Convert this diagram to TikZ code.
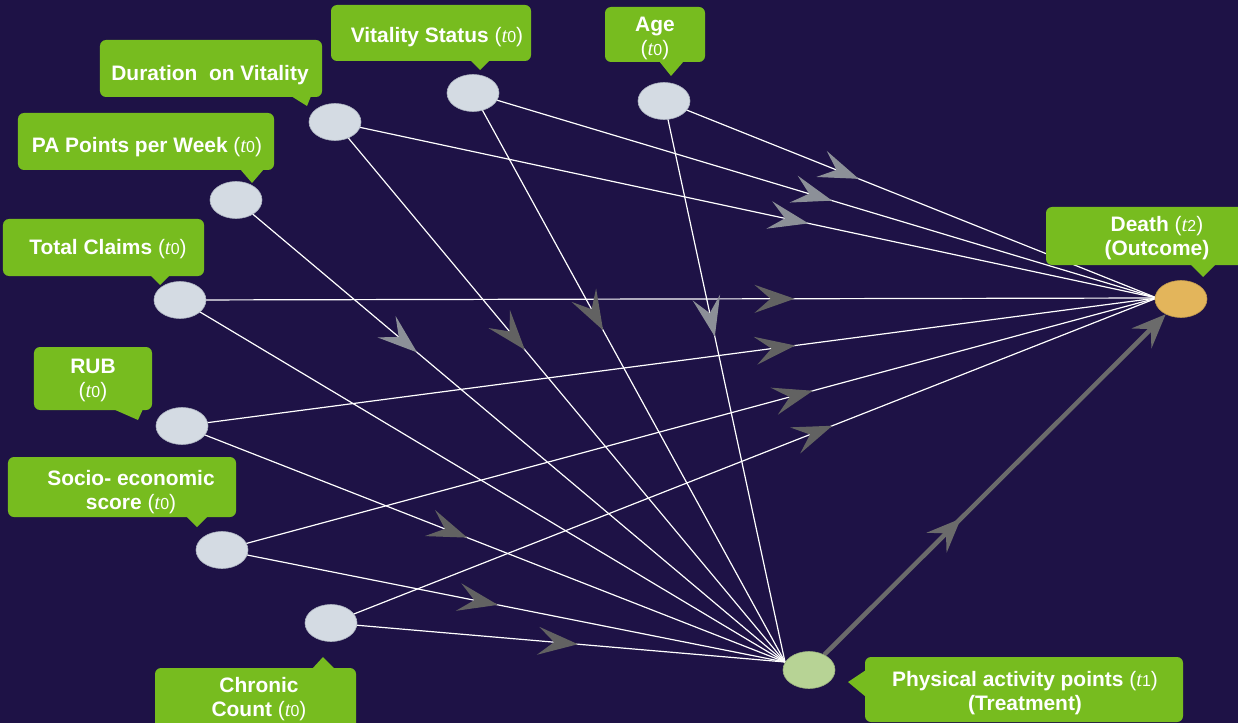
\documentclass[tikz,border=0pt]{standalone}
\usepackage{fontspec}
\setmainfont{Liberation Sans}
\newfontfamily\serifit{Liberation Serif}
\usetikzlibrary{shapes.geometric,arrows.meta,decorations.markings}
\definecolor{bgcol}{HTML}{1E1246}
\definecolor{boxgreen}{HTML}{77BC1F}
\definecolor{nodegray}{HTML}{D4DBE3}
\definecolor{nodeedge}{HTML}{AEB5C2}
\definecolor{treatfill}{HTML}{B7D395}
\definecolor{deathfill}{HTML}{E3B55B}
\definecolor{arrlight}{HTML}{8C9098}
\definecolor{arrdark}{HTML}{626262}
\definecolor{thickcol}{HTML}{6B6B6B}
\newcommand\tlab[1]{{\mdseries(}{\serifit\itshape\mdseries t}{\mdseries\fontsize{16}{24}\selectfont #1}{\mdseries)}}
\pgfdeclarelayer{bgl}
\pgfdeclarelayer{edges}
\pgfsetlayers{bgl,edges,main}
\begin{document}
\begin{tikzpicture}[x=1bp,y=-1bp,
  vnode/.style={ellipse, fill=nodegray, draw=nodeedge, line width=0.6bp, minimum width=52bp, minimum height=37bp, inner sep=0pt},
  lab/.style={rectangle, rounded corners=6bp, fill=boxgreen, inner sep=0pt},
  txt/.style={text=white, font=\bfseries\fontsize{21}{24}\selectfont, align=center, inner sep=0pt},
  link/.style={white, line width=1.2bp},
  arrL/.style={postaction={decorate,decoration={markings,mark=at position #1 with {\arrow{Stealth[length=40bp,width=28bp,inset=16bp,color=arrlight]}}}}},
  arrD/.style={postaction={decorate,decoration={markings,mark=at position #1 with {\arrow{Stealth[length=40bp,width=28bp,inset=16bp,color=arrdark]}}}}},
  thickl/.style={thickcol, line width=4.5bp}
]
\begin{pgfonlayer}{bgl}
\fill[bgcol] (0,0) rectangle (1238,723);
\end{pgfonlayer}
\useasboundingbox (0,0) rectangle (1238,723);

% variable nodes
\node[vnode] (dov) at (335,122) {};
\node[vnode] (vs) at (473,93) {};
\node[vnode] (age) at (664,101) {};
\node[vnode] (paw) at (236,200) {};
\node[vnode] (tc) at (180,300) {};
\node[vnode] (rub) at (182,426) {};
\node[vnode] (socio) at (222,550) {};
\node[vnode] (chron) at (331,623) {};
\node[vnode, fill=treatfill, draw=treatfill!85!black] (treat) at (809,670) {};
\node[vnode, fill=deathfill, draw=deathfill!85!black] (death) at (1181,299) {};

\coordinate (di) at (1157,298);
\coordinate (ti) at (785,662);

% label boxes
\node[lab, minimum width=222bp, minimum height=57bp] (ldov) at (211,68.5) {};
\node[lab, minimum width=200bp, minimum height=56bp] (lvs) at (431,33) {};
\node[lab, minimum width=100bp, minimum height=55bp] (lage) at (655,34.5) {};
\node[lab, minimum width=256bp, minimum height=57bp] (lpaw) at (146,141.5) {};
\node[lab, minimum width=201bp, minimum height=57bp] (ltc) at (103.5,247.5) {};
\node[lab, minimum width=118bp, minimum height=63bp] (lrub) at (93,378.5) {};
\node[lab, minimum width=228bp, minimum height=60bp] (lsocio) at (122,487) {};
\node[lab, minimum width=201bp, minimum height=62bp] (lchron) at (255.5,699) {};
\node[lab, minimum width=318bp, minimum height=65bp] (ltreat) at (1024,689.5) {};
\node[lab, minimum width=224bp, minimum height=58bp] (ldeath) at (1158,236) {};

% label texts
\node[txt] (tdov) at (210,75.5) {Duration\ \ on Vitality};
\node[txt] (tvs) at (437,37) {Vitality Status \tlab{0}};
\node[txt] (tage) at (655,38.5) {Age\\\tlab{0}};
\node[txt] (tpaw) at (147,147.5) {PA Points per Week \tlab{0}};
\node[txt] (ttc) at (108,249.5) {Total Claims \tlab{0}};
\node[txt] (trub) at (93,380.5) {RUB\\\tlab{0}};
\node[txt] (tsocio) at (131,492) {Socio- economic\\score \tlab{0}};
\node[txt] (tchron) at (259,699) {Chronic\\Count \tlab{0}};
\node[txt] (ttreat) at (1025,693.5) {Physical activity points \tlab{1}\\(Treatment)};
\node[txt] (tdeath) at (1157,238) {Death \tlab{2}\\(Outcome)};

% callout pointers
\fill[boxgreen] (291,96) -- (307,106) -- (311,96) -- cycle;
\fill[boxgreen] (470,60) -- (480,70) -- (490,60) -- cycle;
\fill[boxgreen] (659,61) -- (671,76) -- (684,61) -- cycle;
\fill[boxgreen] (240,169) -- (252,183) -- (264,169) -- cycle;
\fill[boxgreen] (150,275) -- (160,285) -- (170,275) -- cycle;
\fill[boxgreen] (113,409) -- (138,420) -- (143,409) -- cycle;
\fill[boxgreen] (186,516) -- (197,527) -- (208,516) -- cycle;
\fill[boxgreen] (312,669) -- (323,657) -- (335,669) -- cycle;
\fill[boxgreen] (866,670) -- (848,682) -- (866,697) -- cycle;
\fill[boxgreen] (1190,264) -- (1203,277) -- (1216,264) -- cycle;

\begin{pgfonlayer}{edges}
% into Death
\draw[link, arrL=0.395] (age.center) -- (di);
\draw[link, arrL=0.525] (vs.center) -- (di);
\draw[link, arrL=0.576] (dov.center) -- (di);
\draw[link, arrD=0.629] (tc.center) -- (di);
\draw[link, arrD=0.629] (rub.center) -- (di);
\draw[link, arrD=0.632] (socio.center) -- (di);
\draw[link, arrD=0.607] (chron.center) -- (di);
% into Treatment
\draw[link, arrL=0.33] (paw.center) -- (ti);
\draw[link, arrD=0.422] (dov.center) -- (ti);
\draw[link, arrD=0.417] (vs.center) -- (ti);
\draw[link, arrL=0.42] (age.center) -- (ti);
\draw[link] (tc.center) -- (ti);
\draw[link, arrD=0.473] (rub.center) -- (ti);
\draw[link, arrD=0.49] (socio.center) -- (ti);
\draw[link, arrD=0.544] (chron.center) -- (ti);
% treatment to death
\draw[thickl, -{Stealth[length=34bp,width=28bp,inset=13bp]},
  postaction={decorate,decoration={markings,mark=at position 0.40 with {\arrow{Stealth[length=34bp,width=28bp,inset=13bp,color=thickcol]}}}}]
  (treat) -- (death);
\end{pgfonlayer}
\end{tikzpicture}
\end{document}
